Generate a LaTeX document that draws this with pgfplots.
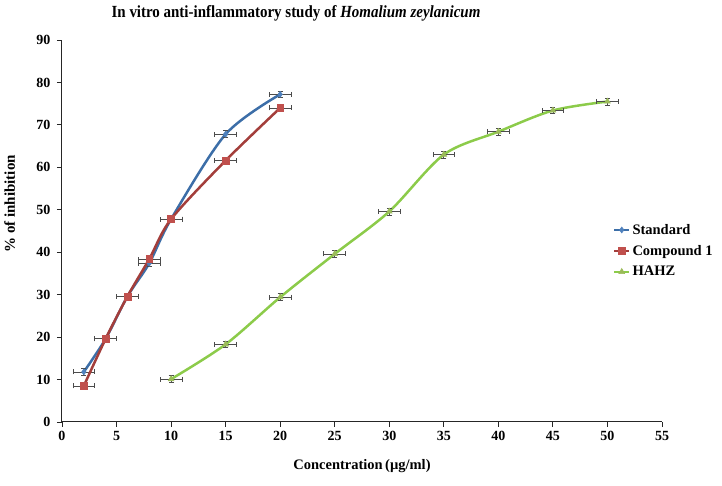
\documentclass[border=0pt]{standalone}
\usepackage{pgfplots}
\pgfplotsset{compat=1.18}
\usepackage{fontspec}
\setmainfont{Liberation Serif}
\definecolor{stdline}{HTML}{3C6EA8}
\definecolor{stdmark}{HTML}{4F81BD}
\definecolor{cmpline}{HTML}{A33E3B}
\definecolor{cmpmark}{HTML}{C0504D}
\definecolor{hahline}{HTML}{8CCB4A}
\definecolor{hahmark}{HTML}{9BBB59}
\begin{document}
\begin{tikzpicture}
\path[use as bounding box] (-62pt,-64pt) rectangle (660pt,422pt);
\begin{axis}[
  at={(0,0)}, anchor=south west,
  scale only axis, width=600pt, height=382pt,
  xmin=0, xmax=55, ymin=0, ymax=90,
  xtick={0,5,...,55}, ytick={0,10,...,90},
  axis x line*=bottom, axis y line*=left,
  axis line style={black!85, line width=1pt},
  tick align=outside, major tick length=5pt,
  tick style={black!85, line width=0.9pt},
  /pgf/number format/assume math mode=true,
  ticklabel style={font=\bfseries\fontsize{14}{16}\selectfont},
  yticklabel style={xshift=-3pt},
  xticklabel style={yshift=-1pt},
  xlabel={\bfseries Concentration\,(µg/ml)},
  ylabel={\bfseries \% of inhibition},
  xlabel style={font=\fontsize{14.5}{16}\selectfont, yshift=-12pt},
  ylabel style={font=\fontsize{15}{17}\selectfont, at={(axis description cs:-0.087,0.571)}, anchor=center},
  legend style={at={(0.918,0.5236)}, anchor=north west, draw=none, fill=none,
    font=\bfseries\fontsize{14.5}{16}\selectfont, row sep=5.5pt,
    legend cell align=left, inner sep=0pt},
  legend image code/.code={\draw[#1] (0pt,0pt) -- (15pt,0pt);
    \draw[#1, only marks] plot coordinates {(7.5pt,0pt)};},
  error bars/error bar style={black!70, line width=0.7pt},
  error bars/error mark options={black!70, line width=0.7pt, rotate=90, mark size=2.5pt},
]
\addplot+[smooth, tension=0.5, stdline, line width=2.5pt, mark=diamond*, mark size=3pt,
  mark options={fill=stdmark, draw=stdmark, line width=0.5pt},
  error bars/.cd, x dir=both, x explicit, y dir=both, y explicit]
  table[x=x, y=y, x error=ex, y error=ey] {
  x y ex ey
  2 11.8 1 0.8
  4 19.6 1 0.8
  6 29.6 1 0.8
  8 37.4 1 0.8
  10 47.8 1 0.8
  15 67.8 1 0.8
  20 77.2 1 0.8
};
\addlegendentry{Standard}
\addplot+[smooth, tension=0.5, cmpline, line width=2.5pt, mark=square*, mark size=3.4pt,
  mark options={fill=cmpmark, draw=cmpmark, line width=0.5pt},
  error bars/.cd, x dir=both, x explicit, y dir=both, y explicit]
  table[x=x, y=y, x error=ex, y error=ey] {
  x y ex ey
  2 8.5 1 0.8
  4 19.6 1 0.8
  6 29.6 1 0.8
  8 38.4 1 0.8
  10 47.8 1 0.8
  15 61.6 1 0.8
  20 74.0 1 0.8
};
\addlegendentry{Compound 1}
\addplot+[smooth, tension=0.5, hahline, line width=2.5pt, mark=triangle*, mark size=3.4pt,
  mark options={fill=hahmark, draw=hahmark, line width=0.5pt},
  error bars/.cd, x dir=both, x explicit, y dir=both, y explicit]
  table[x=x, y=y, x error=ex, y error=ey] {
  x y ex ey
  10 10.1 1 0.8
  15 18.3 1 0.8
  20 29.4 1 0.8
  25 39.6 1 0.8
  30 49.6 1 0.8
  35 63.0 1 0.8
  40 68.4 1 0.8
  45 73.4 1 0.8
  50 75.5 1 0.8
};
\addlegendentry{HAHZ}
\end{axis}
\node[font=\bfseries\fontsize{17}{19}\selectfont, xscale=0.88] at (234pt,409pt) {In vitro anti-inflammatory study of \textit{Homalium zeylanicum}};
\end{tikzpicture}
\end{document}
